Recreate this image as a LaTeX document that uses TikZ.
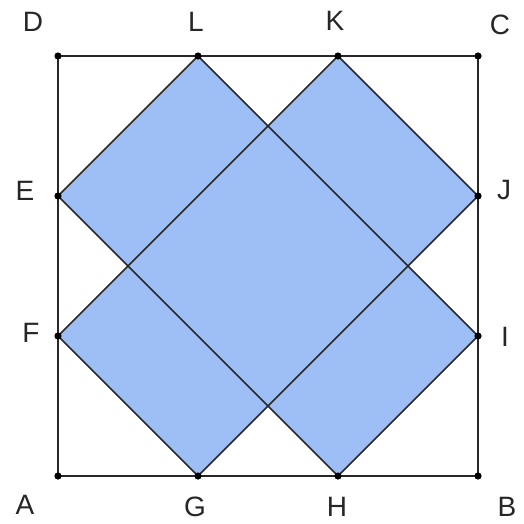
\documentclass[tikz,border=0pt]{standalone}
\usepackage{fontspec}
\setmainfont{Liberation Sans}
\definecolor{tilefill}{RGB}{158,190,246}
\definecolor{edgecol}{RGB}{40,40,40}
\tikzset{
  lbl/.style={inner sep=0pt, font=\fontsize{28}{30}\selectfont, text=black!85},
  seg/.style={draw=edgecol, line width=1.5pt, line join=round},
  pt/.style={fill=black}
}
\begin{document}
\begin{tikzpicture}[x=1pt,y=-1pt]
\useasboundingbox (0,0) rectangle (524,524);
\coordinate (A) at (58,476);
\coordinate (B) at (478,476);
\coordinate (C) at (478,56);
\coordinate (D) at (58,56);
\coordinate (L) at (198,56);
\coordinate (K) at (338,56);
\coordinate (E) at (58,196);
\coordinate (F) at (58,336);
\coordinate (J) at (478,196);
\coordinate (I) at (478,336);
\coordinate (G) at (198,476);
\coordinate (H) at (338,476);
% shaded rectangles
\fill[tilefill] (E) -- (L) -- (I) -- (H) -- cycle;
\fill[tilefill] (K) -- (J) -- (G) -- (F) -- cycle;
% rectangle edges
\draw[seg] (E) -- (L) -- (I) -- (H) -- cycle;
\draw[seg] (K) -- (J) -- (G) -- (F) -- cycle;
% square
\draw[seg, line width=1.3pt] (A) -- (B) -- (C) -- (D) -- cycle;
% points
\foreach \p in {A,B,C,D,E,F,G,H,I,J,K,L}
  \fill[pt] (\p) circle (3.6);
% labels
\node[lbl] (lD) at (33,22) {D};
\node[lbl] (lL) at (196,22) {L};
\node[lbl] (lK) at (335,21) {K};
\node[lbl] (lC) at (500,25) {C};
\node[lbl] (lE) at (25,191) {E};
\node[lbl] (lJ) at (504,190) {J};
\node[lbl] (lF) at (31,333) {F};
\node[lbl] (lI) at (505,337) {I};
\node[lbl] (lA) at (25,505) {A};
\node[lbl] (lG) at (195,507) {G};
\node[lbl] (lH) at (337,507) {H};
\node[lbl] (lB) at (507,507) {B};
\end{tikzpicture}
\end{document}
